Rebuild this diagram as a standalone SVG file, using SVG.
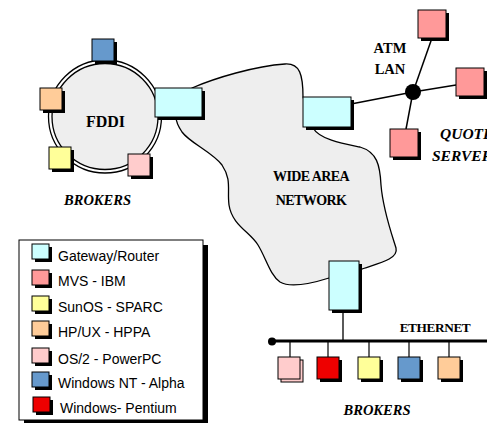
<svg xmlns="http://www.w3.org/2000/svg" width="487" height="423" viewBox="0 0 487 423">
<style>
.sh{fill:#000}
.bx{stroke:#000;stroke-width:1}
.gw{fill:#ccffff}
.mvs{fill:#ff9999}
.sun{fill:#ffff99}
.hp{fill:#ffcc99}
.os2{fill:#ffcccc}
.nt{fill:#6699cc}
.pen{fill:#ee0000}
.lbl{font-family:"Liberation Serif","Times New Roman",serif;font-weight:bold;fill:#000}
.it{font-style:italic}
.lg{font-family:"Liberation Sans",Arial,sans-serif;font-size:14px;fill:#000}
.ln{stroke:#000;fill:none}
</style>
<rect width="487" height="423" fill="#fff"/>

<g id="wan">
<path d="M192 88 C215 78 255 66 285 64 C300 63 303 75 303 97 L313 128 C320 140 345 144 360 147 C377 152 380 165 381 185 C383 210 392 235 396 248 C399 260 375 264 359 270 L329 278 C310 284 290 288 280 282 C270 275 266 258 258 245 C250 232 232 225 229 205 C227 190 232 180 222 165 C212 152 190 143 182 132 C178 126 176 122 176 117 Z" fill="#eeeeee" stroke="#000" stroke-width="1.3"/>
<text class="lbl" x="311" y="181" font-size="14" text-anchor="middle" letter-spacing="-0.6">WIDE AREA</text>
<text class="lbl" x="311" y="205" font-size="14" text-anchor="middle" letter-spacing="-0.6">NETWORK</text>
</g>

<g id="fddi">
<circle cx="105" cy="116.5" r="56.5" fill="#fff" stroke="#000" stroke-width="1.3"/>
<circle cx="105" cy="116.5" r="53" fill="#eeeeee" stroke="#000" stroke-width="1.3"/>
<text class="lbl" x="105.5" y="127" font-size="16" text-anchor="middle">FDDI</text>
</g>

<g id="connectors">
<line class="ln" x1="351" y1="104" x2="413" y2="92" stroke-width="1.5"/>
<line class="ln" x1="413" y1="92" x2="432" y2="38" stroke-width="1.5"/>
<line class="ln" x1="413" y1="92" x2="456" y2="85" stroke-width="1.5"/>
<line class="ln" x1="413" y1="92" x2="406" y2="129" stroke-width="1.5"/>
<circle cx="413" cy="92" r="8" fill="#000"/>
<line class="ln" x1="343" y1="310" x2="343" y2="341" stroke-width="1.3"/>
<line class="ln" x1="272" y1="341" x2="487" y2="341" stroke-width="3"/>
<circle cx="272" cy="341.5" r="4" fill="#000"/>
<line class="ln" x1="290" y1="341" x2="290" y2="357" stroke-width="1.2"/>
<line class="ln" x1="328" y1="341" x2="328" y2="357" stroke-width="1.2"/>
<line class="ln" x1="369" y1="341" x2="369" y2="357" stroke-width="1.2"/>
<line class="ln" x1="409" y1="341" x2="409" y2="357" stroke-width="1.2"/>
<line class="ln" x1="449" y1="341" x2="449" y2="357" stroke-width="1.2"/>
</g>

<g id="gw-fddi"><rect class="sh" x="158" y="91" width="47" height="29"/><rect class="gw bx" x="155" y="88" width="47" height="29"/></g>
<g id="gw-atm"><rect class="sh" x="306" y="100" width="48" height="30"/><rect class="gw bx" x="303" y="97" width="48" height="30"/></g>
<g id="gw-eth"><rect class="sh" x="332" y="264" width="30" height="49"/><rect class="gw bx" x="329" y="261" width="30" height="49"/></g>

<g id="fddi-nt"><rect class="sh" x="95" y="42" width="22" height="22"/><rect class="nt bx" x="92" y="39" width="22" height="22"/></g>
<g id="fddi-hp"><rect class="sh" x="43" y="91" width="22" height="22"/><rect class="hp bx" x="40" y="88" width="22" height="22"/></g>
<g id="fddi-sun"><rect class="sh" x="52" y="150" width="22" height="22"/><rect class="sun bx" x="49" y="147" width="22" height="22"/></g>
<g id="fddi-os2"><rect class="sh" x="131" y="157" width="22" height="22"/><rect class="os2 bx" x="128" y="154" width="22" height="22"/></g>
<text class="lbl it" x="97.5" y="205" font-size="14.5" text-anchor="middle">BROKERS</text>

<g id="atm-top"><rect class="sh" x="421" y="13" width="28" height="28"/><rect class="mvs bx" x="418" y="10" width="28" height="28"/></g>
<g id="atm-right"><rect class="sh" x="459" y="71" width="28" height="28"/><rect class="mvs bx" x="456" y="68" width="28" height="28"/></g>
<g id="atm-bottom"><rect class="sh" x="393" y="132" width="28" height="28"/><rect class="mvs bx" x="390" y="129" width="28" height="28"/></g>
<text class="lbl" x="390" y="53" font-size="14.5" text-anchor="middle">ATM</text>
<text class="lbl" x="390" y="74" font-size="14.5" text-anchor="middle">LAN</text>
<text class="lbl it" x="440" y="139" font-size="15.5">QUOTE</text>
<text class="lbl it" x="432" y="161" font-size="15.5">SERVER</text>

<g id="eth-os2"><rect class="os2 bx" x="281" y="360" width="22" height="22"/><rect class="os2 bx" x="278" y="357" width="22" height="22"/></g>
<g id="eth-pen"><rect class="sh" x="320" y="360" width="22" height="22"/><rect class="pen bx" x="317" y="357" width="22" height="22"/></g>
<g id="eth-sun"><rect class="sh" x="361" y="360" width="22" height="22"/><rect class="sun bx" x="358" y="357" width="22" height="22"/></g>
<g id="eth-nt"><rect class="sh" x="401" y="360" width="22" height="22"/><rect class="nt bx" x="398" y="357" width="22" height="22"/></g>
<g id="eth-hp"><rect class="sh" x="441" y="360" width="22" height="22"/><rect class="hp bx" x="438" y="357" width="22" height="22"/></g>
<text class="lbl" x="435" y="332" font-size="13.3" text-anchor="middle" letter-spacing="-0.4">ETHERNET</text>
<text class="lbl it" x="377" y="415" font-size="14.5" text-anchor="middle">BROKERS</text>

<g id="legend">
<rect class="sh" x="24" y="245" width="184" height="180"/>
<rect x="19" y="240" width="184" height="180" fill="#fff" stroke="#000" stroke-width="1"/>
<rect class="sh" x="35" y="247" width="17" height="15"/><rect class="gw bx" x="32" y="244" width="17" height="15"/>
<text class="lg" x="58" y="261">Gateway/Router</text>
<rect class="sh" x="35" y="273" width="17" height="15"/><rect class="mvs bx" x="32" y="270" width="17" height="15"/>
<text class="lg" x="58" y="286">MVS - IBM</text>
<rect class="sh" x="35" y="299" width="17" height="15"/><rect class="sun bx" x="32" y="296" width="17" height="15"/>
<text class="lg" x="58" y="311.5">SunOS - SPARC</text>
<rect class="sh" x="35" y="324" width="17" height="15"/><rect class="hp bx" x="32" y="321" width="17" height="15"/>
<text class="lg" x="58" y="336.5">HP/UX - HPPA</text>
<rect class="sh" x="35" y="351" width="17" height="15"/><rect class="os2 bx" x="32" y="348" width="17" height="15"/>
<text class="lg" x="58" y="364">OS/2 - PowerPC</text>
<rect class="sh" x="35" y="375" width="17" height="15"/><rect class="nt bx" x="32" y="372" width="17" height="15"/>
<text class="lg" x="58" y="388">Windows NT - Alpha</text>
<rect class="sh" x="36" y="400" width="17" height="15"/><rect class="pen bx" x="33" y="397" width="17" height="15"/>
<text class="lg" x="60" y="413">Windows- Pentium</text>
</g>
</svg>
